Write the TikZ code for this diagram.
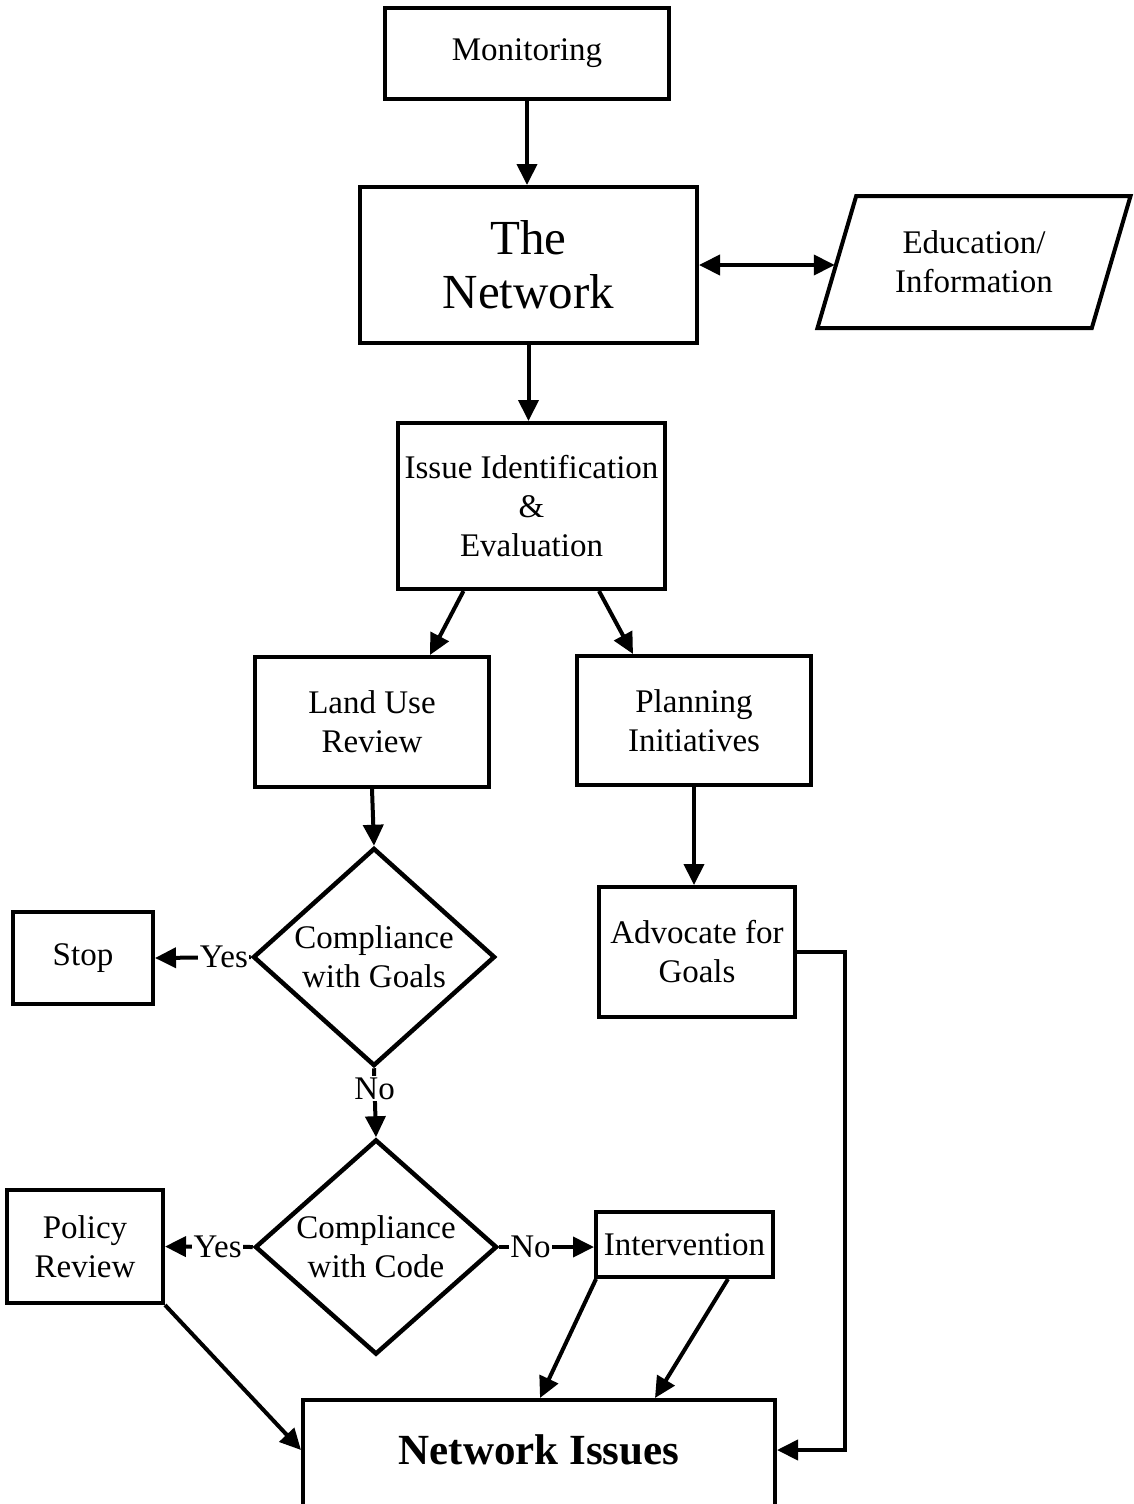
\documentclass[tikz,border=0pt]{standalone}
\usepackage{fontspec}
\setmainfont{Liberation Serif}
\usetikzlibrary{arrows.meta,shapes.geometric,calc}

\begin{document}
\begin{tikzpicture}[x=1pt,y=-1pt,
  every node/.style={inner sep=0pt, align=center},
  txt/.style={font=\fontsize{33}{39}\selectfont},
  box/.style={txt, draw, line width=4pt},
  dec/.style={txt, draw, diamond, line width=4.5pt, aspect=1.1},
  conn/.style={line width=4pt},
  arr/.style={conn, -{Triangle[length=21pt,width=20pt]}},
  tag/.style={txt, fill=white, inner sep=1.5pt}
]
\useasboundingbox (0,0) rectangle (1134,1504);
\clip (0,0) rectangle (1134,1504);

% boxes
\node[box, minimum width=284pt, minimum height=91pt] (mon) at (527,53.5) {Monitoring};
\node[box, minimum width=337pt, minimum height=156pt,
      font=\fontsize{49}{54}\selectfont] (net) at (528.5,265) {The\\Network};
\node[box, trapezium, trapezium left angle=67.4, trapezium right angle=112.6,
      trapezium stretches=true, minimum width=314pt, minimum height=132pt] (edu) at (974,262) {Education/\\Information};
\node[box, minimum width=267pt, minimum height=166pt] (iss) at (531.5,506) {Issue Identification\\\&\\Evaluation};
\node[box, minimum width=234pt, minimum height=130pt] (land) at (372,722) {Land Use\\Review};
\node[box, minimum width=234pt, minimum height=129pt] (plan) at (694,720.5) {Planning\\Initiatives};
\node[dec, minimum width=242pt, minimum height=218pt] (goals) at (374,957) {Compliance\\with Goals};
\node[box, minimum width=140pt, minimum height=92pt] (stop) at (83,958) {Stop};
\node[box, minimum width=196pt, minimum height=130pt] (adv) at (697,952) {Advocate for\\Goals};
\node[dec, minimum width=242pt, minimum height=215pt] (code) at (376,1247) {Compliance\\with Code};
\node[box, minimum width=156pt, minimum height=113pt] (pr) at (85,1246.5) {Policy\\Review};
\node[box, minimum width=177pt, minimum height=65pt] (int) at (684.5,1244.5) {Intervention};
\node[box, minimum width=472pt, minimum height=140pt,
      label={[yshift=20pt, font=\fontsize{43}{50}\selectfont\bfseries]center:Network Issues}] (ni) at (539,1470) {};

% connectors
\draw[arr] (mon.south) -- (mon.south |- net.north);
\draw[conn, {Triangle[length=21pt,width=20pt]}-{Triangle[length=21pt,width=20pt]}] (net.east) -- (net.east -| edu.west);
\draw[arr] (net.south) -- (net.south |- iss.north);
\draw[arr] ([xshift=-68pt]iss.south) -- ([xshift=58pt]land.north);
\draw[arr] ([xshift=67.5pt]iss.south) -- ([xshift=-61pt]plan.north);
\draw[arr] (land.south) -- (goals.north);
\draw[arr] (plan.south) -- (plan.south |- adv.north);
\draw[arr] (goals.west) -- node[tag, pos=0.28] {Yes} (stop.east);
\draw[arr] (goals.south) -- node[tag, pos=0.3] {No} (code.north);
\draw[arr] (code.west) -- node[tag, pos=0.4] {Yes} (pr.east);
\draw[arr] (code.east) -- node[tag, pos=0.33] {No} (code.east -| int.west);
\draw[arr] ([xshift=2pt]int.south west) -- ([xshift=1pt]ni.north);
\draw[arr] ([xshift=43.5pt]int.south) -- ([xshift=116pt]ni.north);
\draw[arr] (pr.south east) -- ([yshift=20pt]ni.west);
\draw[arr] (adv.east) -- ++(48,0) |- ([yshift=20pt]ni.east);
\end{tikzpicture}
\end{document}
